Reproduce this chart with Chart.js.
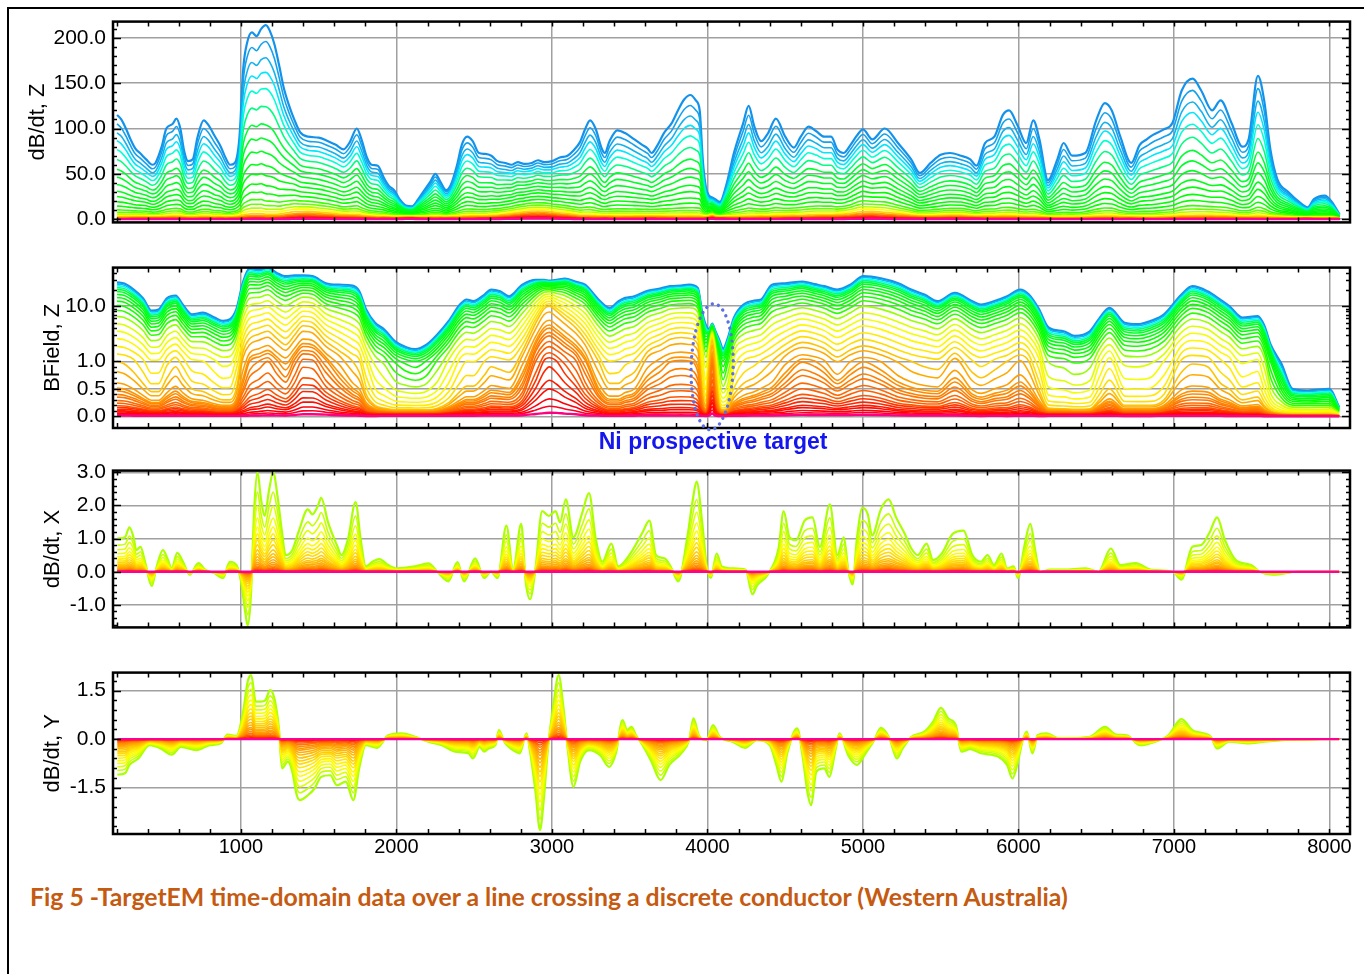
<!DOCTYPE html>
<html>
<head>
<meta charset="utf-8">
<script src="https://cdn.jsdelivr.net/npm/chart.js@4.4.0/dist/chart.umd.min.js"></script>
<style>
  html, body { margin: 0; padding: 0; background: #fff; }
  body { width: 1364px; height: 974px; position: relative; overflow: hidden; }
  #frame { position: absolute; left: 7px; top: 7px; width: 1400px; height: 1000px; border-left: 2px solid #000; border-top: 2px solid #000; }
  canvas { position: absolute; left: 0; }
  #caption { position: absolute; left: 30px; top: 884px; line-height: 26px; font-family: Lato, 'Open Sans', sans-serif; font-weight: 700; color: #c55a11; white-space: nowrap; }
</style>
</head>
<body>
<div id="frame"></div>
<canvas id="c1" width="1364" height="240" style="top:2px"></canvas>
<canvas id="c2" width="1364" height="208" style="top:248px"></canvas>
<canvas id="c3" width="1364" height="196" style="top:451px"></canvas>
<canvas id="c4" width="1364" height="219" style="top:653px"></canvas>
<div id="caption">Fig 5 -TargetEM time-domain data over a line crossing a discrete conductor (Western Australia)</div>
<script>
// ---- data ----
const distTicks = [1000, 2000, 3000, 4000, 5000, 6000, 7000, 8000];

// panel 1: dB/dt Z, first channel and the yellow reference channel
const dist1 = [
  203, 230, 260, 290, 320, 350, 390, 430, 450, 490,
  520, 560, 585, 610, 635, 660, 690, 720, 760, 790,
  830, 870, 900, 930, 960, 990, 1015, 1040, 1070, 1100,
  1130, 1160, 1185, 1215, 1245, 1275, 1310, 1345, 1380, 1430,
  1500, 1560, 1610, 1660, 1700, 1745, 1775, 1810, 1840, 1880,
  1915, 1950, 1985, 2020, 2060, 2100, 2140, 2180, 2220, 2250,
  2280, 2320, 2350, 2390, 2420, 2455, 2490, 2530, 2570, 2610,
  2650, 2700, 2740, 2780, 2820, 2870, 2910, 2950, 3000, 3050,
  3100, 3140, 3180, 3215, 3245, 3280, 3320, 3340, 3370, 3420,
  3470, 3530, 3580, 3615, 3640, 3680, 3720, 3770, 3810, 3850,
  3890, 3925, 3950, 3970, 3990, 4010, 4030, 4050, 4080, 4120,
  4170, 4230, 4265, 4300, 4345, 4390, 4440, 4500, 4555, 4600,
  4650, 4700, 4750, 4795, 4835, 4875, 4920, 4960, 5000, 5060,
  5140, 5225, 5310, 5365, 5435, 5500, 5560, 5630, 5690, 5730,
  5785, 5845, 5900, 5940, 5995, 6050, 6095, 6135, 6190, 6250,
  6290, 6345, 6430, 6500, 6555, 6600, 6655, 6725, 6780, 6825,
  6865, 6935, 6990, 7050, 7120, 7175, 7245, 7300, 7370, 7440,
  7480, 7540, 7580, 7620, 7665, 7735, 7805, 7860, 7900, 7970,
  8015, 8065
];
const p1Early = [
  115, 110, 100, 88, 78, 73, 66, 60, 62, 80,
  100, 105, 111, 100, 75, 64, 66, 90, 109, 104,
  92, 80, 68, 60, 62, 90, 167, 195, 206, 202,
  210, 214, 208, 193, 170, 145, 125, 109, 96, 91,
  90, 86, 82, 77, 85, 100, 88, 68, 60, 59,
  47, 37, 32, 22, 15, 14, 22, 32, 42, 50,
  42, 32, 38, 60, 82, 91, 86, 73, 72, 70,
  64, 62, 60, 63, 61, 62, 65, 63, 64, 68,
  70, 76, 85, 100, 109, 100, 78, 73, 86, 98,
  95, 88, 82, 78, 73, 82, 95, 106, 120, 132,
  137, 131, 120, 65, 35, 26, 24, 22, 19, 37,
  73, 106, 125, 103, 86, 95, 111, 91, 79, 91,
  102, 97, 91, 91, 77, 73, 82, 92, 99, 88,
  100, 84, 66, 51, 62, 71, 73, 70, 66, 59,
  84, 91, 115, 120, 103, 84, 109, 88, 43, 66,
  84, 70, 73, 109, 128, 120, 91, 62, 82, 88,
  93, 99, 106, 142, 155, 142, 120, 131, 106, 80,
  88, 158, 131, 77, 44, 30, 19, 13, 22, 26,
  19, 5
];
const p1Late = [
  4, 4, 4, 4, 4, 4, 4, 3.5, 3.5, 4,
  4.5, 5, 5, 5, 4, 3.5, 3.5, 4, 4.5, 4.5,
  4, 4, 3.5, 3.5, 4, 5, 7, 8, 9, 9,
  9, 8, 8, 8, 8, 9, 10, 11, 11, 11,
  10, 9, 8, 7, 7, 7, 6, 5, 4.5, 4,
  4, 3.5, 3, 3, 3, 3, 3, 3, 3.5, 3.5,
  3.5, 3, 3.5, 4, 4.5, 5, 5, 5, 5, 5.5,
  6, 7, 8, 9, 10, 11, 11, 11, 10, 9,
  8, 7, 6, 6, 6, 5.5, 5, 5, 5, 5,
  5, 5, 5, 5, 5, 5, 5, 5, 5, 5,
  5, 5, 5, 4, 3.5, 4, 5, 3.5, 3, 3.5,
  4, 4.5, 5, 5, 5, 5, 5.5, 5.5, 6, 6,
  6.5, 7, 7, 7, 7, 7.5, 8.5, 10, 11, 11,
  10, 8, 6, 5, 5, 5.5, 6, 6, 5, 4.5,
  5, 5, 5.5, 5.5, 5, 4.5, 4.5, 4, 3, 3,
  3, 3, 3.5, 4.5, 5, 5, 4, 3.5, 3.5, 3.5,
  3.5, 4, 4.5, 5.5, 6, 6, 6, 5.5, 5, 4,
  4, 5, 4.5, 3.5, 3, 2.5, 2, 2, 2, 2,
  2, 1
];
// decay position of each channel between first (0) and reference (1)
const p1Weights = [0, 0.0267, 0.056, 0.0847, 0.1205, 0.166, 0.2195, 0.2704, 0.3272, 0.392,
  0.4548, 0.534, 0.6188, 0.7211, 0.8087, 0.903, 1.0, 1.1195, 1.2428, 1.3662,
  1.5093, 1.6647, 1.8435, 2.0544, 2.2777, 2.544];
const p1Ticks = [0, 50, 100, 150, 200];

// panel 2: BField Z, first channel, mid (yellow/orange) and late (red) channels
const dist2 = [
  203, 250, 310, 370, 425, 470, 525, 580, 625, 685,
  755, 830, 885, 930, 970, 1014, 1057, 1115, 1172, 1230,
  1287, 1345, 1400, 1460, 1546, 1632, 1718, 1761, 1805, 1862,
  1920, 1991, 2063, 2121, 2193, 2264, 2336, 2408, 2451, 2494,
  2566, 2609, 2667, 2724, 2810, 2897, 2950, 2983, 3030, 3083,
  3155, 3213, 3299, 3371, 3428, 3471, 3529, 3615, 3700, 3760,
  3830, 3882, 3938, 3965, 3990, 4010, 4030, 4050, 4075, 4100,
  4130, 4170, 4232, 4300, 4345, 4415, 4500, 4611, 4690, 4751,
  4835, 4919, 5003, 5115, 5227, 5310, 5395, 5479, 5591, 5703,
  5759, 5850, 5927, 6011, 6067, 6130, 6193, 6291, 6361, 6459,
  6520, 6585, 6683, 6767, 6851, 6936, 7048, 7118, 7216, 7300,
  7356, 7440, 7538, 7580, 7622, 7692, 7762, 7860, 8000, 8062
];
const p2Early = [
  27, 25.7, 20, 14, 8.3, 8.7, 14, 15.6, 10.7, 7.1,
  7.6, 6.2, 5.4, 5.8, 8.7, 28, 49, 46, 51, 40,
  35, 36, 36, 35, 26, 24.5, 23.6, 18.6, 8.7, 5.0,
  3.8, 2.3, 1.8, 1.66, 2.0, 3.1, 5.4, 10.7, 13.2, 12.3,
  16.2, 20, 18.6, 15.1, 24.5, 30, 30, 29, 30, 31.6,
  27.5, 24.5, 13.2, 9.3, 12.3, 14.1, 15.1, 19, 21, 23,
  23.6, 24.5, 21.4, 8, 4.5, 3.8, 4.8, 3.6, 2.5, 1.7,
  2.6, 6.2, 10.7, 12.6, 13.2, 24.5, 26, 28, 25, 23,
  20, 24.5, 35, 32, 26, 20, 16.2, 12.3, 17.4, 12.3,
  10.7, 12.5, 15.1, 20, 16.2, 9, 4.1, 3.5, 2.9, 3.5,
  6, 9.3, 5.0, 4.7, 5.4, 7.1, 16.2, 23, 18.6, 13,
  10, 6.2, 6.6, 4.5, 2.0, 0.95, 0.5, 0.47, 0.5, 0.17
];
const p2Mid = [
  1.0, 0.95, 0.8, 0.6, 0.45, 0.45, 0.7, 0.9, 0.7, 0.5,
  0.45, 0.35, 0.3, 0.3, 0.5, 1.5, 2.6, 3.1, 3.5, 2.6,
  2.0, 3.0, 4.4, 4.1, 2.3, 1.55, 1.0, 0.8, 0.4, 0.2,
  0.15, 0.12, 0.12, 0.12, 0.12, 0.15, 0.25, 0.45, 0.55, 0.55,
  0.75, 0.9, 0.85, 0.8, 1.55, 5, 9, 10, 8, 6,
  4, 2.5, 1.0, 0.6, 0.6, 0.7, 0.8, 1.5, 2.0, 2.5,
  2.7, 2.6, 2.0, 0.5, 0.2, 0.9, 2.4, 0.9, 0.2, 0.12,
  0.15, 0.4, 0.6, 0.7, 0.8, 1.0, 1.55, 2.2, 2.0, 1.7,
  1.2, 1.6, 1.9, 1.6, 1.2, 1.0, 0.9, 0.85, 1.4, 0.8,
  0.7, 0.85, 1.0, 1.3, 1.0, 0.5, 0.15, 0.14, 0.13, 0.14,
  0.3, 0.5, 0.2, 0.2, 0.2, 0.3, 0.8, 0.95, 0.9, 0.6,
  0.5, 0.3, 0.35, 0.2, 0.1, 0.05, 0.04, 0.04, 0.04, 0.02
];
const p2Late = [
  0.08, 0.08, 0.07, 0.06, 0.05, 0.05, 0.06, 0.07, 0.06, 0.05,
  0.05, 0.04, 0.04, 0.04, 0.05, 0.08, 0.12, 0.14, 0.17, 0.14,
  0.12, 0.18, 0.26, 0.26, 0.18, 0.12, 0.08, 0.07, 0.04, 0.03,
  0.03, 0.03, 0.03, 0.03, 0.03, 0.03, 0.04, 0.05, 0.06, 0.06,
  0.07, 0.08, 0.08, 0.08, 0.12, 0.3, 0.45, 0.5, 0.45, 0.35,
  0.25, 0.15, 0.08, 0.05, 0.05, 0.06, 0.07, 0.1, 0.11, 0.12,
  0.12, 0.12, 0.1, 0.05, 0.03, 0.08, 0.25, 0.08, 0.03, 0.02,
  0.03, 0.05, 0.06, 0.07, 0.08, 0.09, 0.12, 0.16, 0.15, 0.14,
  0.12, 0.14, 0.16, 0.14, 0.1, 0.09, 0.08, 0.08, 0.1, 0.06,
  0.05, 0.06, 0.06, 0.08, 0.07, 0.04, 0.03, 0.03, 0.03, 0.03,
  0.04, 0.05, 0.03, 0.03, 0.03, 0.04, 0.06, 0.06, 0.06, 0.05,
  0.04, 0.03, 0.03, 0.02, 0.015, 0.01, 0.01, 0.01, 0.01, 0.005
];
// 0..1 first->mid, 1..2 mid->late
const p2Weights = [0, 0.0202, 0.0417, 0.0645, 0.0891, 0.1155, 0.1517, 0.1922, 0.2379, 0.2909,
  0.3534, 0.4301, 0.5243, 0.6169, 0.712, 0.8105, 0.906, 1.0, 1.0823, 1.196,
  1.2634, 1.3065, 1.365, 1.415, 1.4937, 1.5645, 1.6504, 1.7199, 1.804, 1.9098,
  2.0, 2.151, 2.334, 2.676];
const p2Ticks = [0, 0.5, 1, 10];

// panel 3: dB/dt X, first channel
const dist3 = [
  205, 254, 283, 311, 326, 354, 383, 426, 455, 498,
  527, 555, 590, 627, 670, 727, 770, 828, 885, 928,
  971, 1000, 1029, 1043, 1063, 1086, 1106, 1129, 1152, 1181,
  1207, 1235, 1264, 1287, 1330, 1373, 1430, 1459, 1494, 1516,
  1560, 1617, 1646, 1689, 1737, 1769, 1803, 1846, 1890, 1947,
  2004, 2119, 2205, 2263, 2334, 2392, 2435, 2506, 2564, 2607,
  2650, 2707, 2750, 2802, 2831, 2859, 2894, 2937, 2980, 3023,
  3052, 3089, 3138, 3195, 3238, 3281, 3324, 3382, 3425, 3497,
  3583, 3626, 3669, 3726, 3769, 3812, 3869, 3906, 3930, 3966,
  3994, 4022, 4059, 4092, 4162, 4246, 4289, 4317, 4387, 4457,
  4490, 4527, 4569, 4625, 4675, 4723, 4787, 4835, 4877, 4905,
  4933, 4961, 4997, 5031, 5059, 5115, 5165, 5213, 5269, 5311,
  5353, 5409, 5451, 5507, 5577, 5647, 5703, 5759, 5801, 5843,
  5891, 5927, 5969, 5997, 6039, 6076, 6109, 6137, 6207, 6291,
  6431, 6515, 6594, 6655, 6754, 6852, 6992, 7048, 7118, 7174,
  7230, 7277, 7328, 7398, 7496, 7552, 7636, 7800, 8062
];
const p3Early = [
  1.0, 1.04, 1.34, 1.0, 0.65, 0.75, 0.3, -0.43, 0.1, 0.65,
  0.4, 0.1, 0.57, 0.3, -0.09, 0.26, 0.06, -0.04, -0.19, 0.3,
  0.2, -0.29, -1.27, -1.62, -0.78, 1.98, 3.0, 2.18, 1.68, 2.47,
  3.0, 2.28, 1.19, 0.5, 0.65, 1.24, 1.88, 1.73, 1.98, 2.23,
  1.49, 0.8, 0.5, 1.0, 2.1, 1.0, 0.16, 0.3, 0.38, 0.2,
  0.1, 0.16, 0.25, 0.0, -0.29, 0.29, -0.29, 0.4, -0.19, 0.0,
  -0.19, 1.39, 0.06, 1.44, -0.29, -0.83, 0.1, 1.83, 1.68, 1.83,
  1.49, 2.18, 1.04, 1.78, 2.37, 1.0, 0.3, 0.85, 0.16, 0.5,
  1.19, 1.54, 0.5, 0.4, 0.1, -0.29, 1.0, 2.18, 2.72, 1.49,
  0.2, -0.19, 0.55, 0.16, 0.1, 0.06, -0.68, -0.43, -0.09, 0.7,
  1.83, 1.04, 0.95, 1.54, 1.64, 0.75, 2.03, 0.5, 1.04, 0.06,
  -0.38, 1.0, 1.93, 1.73, 1.09, 1.88, 2.18, 1.64, 1.14, 0.7,
  0.5, 0.85, 0.35, 0.55, 1.14, 1.24, 0.5, 0.3, 0.5, 0.2,
  0.55, 0.1, 0.16, -0.19, 0.8, 1.44, 0.6, 0.0, 0.06, 0.06,
  0.1, 0.0, 0.7, 0.2, 0.26, 0.06, 0.0, -0.24, 0.75, 0.8,
  1.19, 1.64, 0.95, 0.35, 0.2, 0.0, -0.09, 0.0, 0.0
];
const p3Gains = [1, 0.8, 0.66, 0.54, 0.45, 0.38, 0.32, 0.27, 0.22, 0.18,
  0.15, 0.12, 0.095, 0.075, 0.058, 0.043, 0.03, 0.018, 0.008, 0];
const p3Ticks = [-1, 0, 1, 2, 3];

// panel 4: dB/dt Y, first channel
const dist4 = [
  205, 254, 283, 340, 412, 483, 555, 613, 713, 799,
  871, 914, 971, 1014, 1043, 1066, 1095, 1129, 1158, 1187,
  1215, 1244, 1264, 1301, 1330, 1359, 1379, 1430, 1473, 1516,
  1574, 1617, 1674, 1723, 1760, 1803, 1875, 1947, 2033, 2119,
  2205, 2291, 2377, 2463, 2492, 2535, 2564, 2593, 2636, 2659,
  2693, 2765, 2793, 2836, 2859, 2894, 2923, 2946, 2974, 3009,
  3043, 3072, 3101, 3138, 3181, 3238, 3310, 3368, 3411, 3454,
  3483, 3511, 3540, 3583, 3640, 3698, 3755, 3830, 3882, 3910,
  3944, 3994, 4036, 4078, 4162, 4241, 4317, 4401, 4443, 4476,
  4513, 4577, 4611, 4644, 4667, 4700, 4751, 4784, 4821, 4849,
  4905, 4961, 5017, 5073, 5115, 5171, 5218, 5255, 5311, 5395,
  5451, 5501, 5549, 5597, 5633, 5689, 5759, 5871, 5927, 5961,
  5997, 6025, 6053, 6090, 6123, 6179, 6263, 6459, 6557, 6627,
  6697, 6782, 6880, 6964, 7048, 7118, 7188, 7238, 7277, 7356,
  7468, 7580, 7692, 8062
];
const p4Early = [
  -1.1, -1.06, -0.8, -0.6, -0.19, -0.29, -0.48, -0.24, -0.34, -0.19,
  -0.13, 0.14, 0.1, 0.85, 1.78, 1.98, 1.16, 1.16, 1.21, 1.52,
  1.26, 0.33, -0.91, -0.7, -1.01, -1.74, -1.89, -1.74, -1.53, -1.17,
  -1.12, -1.43, -1.32, -1.89, -0.91, -0.19, -0.27, 0.12, 0.18, 0.07,
  -0.08, -0.19, -0.39, -0.44, -0.6, -0.24, -0.39, -0.29, -0.19, 0.28,
  -0.08, -0.39, -0.44, 0.18, -0.39, -1.63, -2.82, -1.94, -0.29, 1.05,
  1.98, 1.05, -0.29, -1.48, -0.7, -0.34, -0.5, -0.86, -0.44, 0.59,
  0.28, 0.38, 0.12, -0.19, -0.7, -1.27, -0.8, -0.45, -0.03, 0.64,
  0.12, -0.03, 0.43, 0.07, -0.08, -0.27, -0.03, -0.19, -0.8, -1.32,
  -0.44, 0.33, -0.5, -1.68, -2.05, -1.01, -0.91, -1.17, -0.39, 0.18,
  -0.5, -0.8, -0.44, -0.03, 0.35, 0.02, -0.6, -0.29, 0.07, 0.23,
  0.54, 0.97, 0.64, 0.43, -0.39, -0.31, -0.44, -0.55, -0.8, -1.22,
  -0.7, -0.08, 0.23, -0.44, 0.12, 0.18, 0.02, 0.07, 0.38, 0.14,
  0.12, -0.19, -0.08, 0.12, 0.62, 0.28, 0.18, 0.07, -0.29, -0.08,
  -0.13, -0.08, -0.03, 0.0
];
const p4Gains = [1, 0.88, 0.78, 0.69, 0.61, 0.54, 0.47, 0.41, 0.36, 0.31,
  0.26, 0.22, 0.18, 0.15, 0.12, 0.09, 0.065, 0.04, 0.02, 0];
const p4Ticks = [-1.5, 0, 1.5];

const targetDist = 4030;
const targetLabel = 'Ni prospective target';

// ---- styling ----
Chart.defaults.font.family = "'Liberation Sans', Arial, sans-serif";
Chart.defaults.color = '#000';

const hue1 = [[0, 205], [0.08, 196], [0.12, 186], [0.16, 170], [0.2, 150], [0.24, 132], [0.48, 118],
  [0.56, 95], [0.6, 78], [0.64, 60], [0.72, 38], [0.8, 20], [0.88, 5], [0.96, -15], [1, -35]];
const hue2 = [[0, 205], [0.03, 195], [0.06, 180], [0.09, 150], [0.12, 132], [0.3, 112], [0.333, 85],
  [0.364, 68], [0.424, 58], [0.485, 52], [0.515, 46], [0.545, 40], [0.667, 30], [0.788, 20],
  [0.818, 12], [0.909, 3], [0.97, -8], [1, -30]];
const hueXY = [[0, 80], [0.1, 68], [0.2, 60], [0.35, 52], [0.55, 42], [0.75, 32], [0.88, 18], [0.95, 5], [1, -35]];

function channelColor(stops, f) {
  let h = stops[stops.length - 1][1];
  for (let j = 1; j < stops.length; j++) {
    if (f <= stops[j][0]) {
      const [f0, h0] = stops[j - 1];
      const [f1, h1] = stops[j];
      h = h0 + (h1 - h0) * (f - f0) / (f1 - f0);
      break;
    }
  }
  h = (h + 360) % 360;
  const sat = (h > 190 && h < 250) ? 85 : 100;
  return `hsl(${h.toFixed(1)}, ${sat}%, 50%)`;
}

function channelSet(dist, values, k, n, stops) {
  const last = k === n - 1;
  return {
    data: dist.map((d, i) => ({ x: d, y: values[i] })),
    borderColor: channelColor(stops, k / (n - 1)),
    borderWidth: k === 0 ? 2.2 : (last ? 2.4 : 1.6),
    pointRadius: 0,
    fill: false,
    cubicInterpolationMode: 'monotone',
    order: n - k
  };
}

// symmetric log axis: linear in [-1, 1], log10 beyond
class SymlogScale extends Chart.LinearScale {
  static id = 'symlog';
  static defaults = Chart.LinearScale.defaults;
  fwd(v) { return Math.abs(v) <= 1 ? v : Math.sign(v) * (1 + Math.log10(Math.abs(v))); }
  inv(f) { return Math.abs(f) <= 1 ? f : Math.sign(f) * Math.pow(10, Math.abs(f) - 1); }
  getPixelForValue(v) {
    const a = this.fwd(this.min), b = this.fwd(this.max);
    return this.getPixelForDecimal((this.fwd(v) - a) / (b - a));
  }
  getValueForPixel(p) {
    const a = this.fwd(this.min), b = this.fwd(this.max);
    return this.inv(a + this.getDecimalForPixel(p) * (b - a));
  }
}
Chart.register(SymlogScale);

// inward tick marks and black frame around each plot
const framePlugin = {
  id: 'frame',
  afterDraw(chart, args, opts) {
    const { ctx, chartArea: a, scales: { x, y } } = chart;
    ctx.save();
    ctx.strokeStyle = '#000';
    ctx.lineWidth = 1.5;
    ctx.beginPath();
    for (let v = 200; v <= 8100; v += 200) {
      const px = Math.round(x.getPixelForValue(v)) + 0.5;
      if (px <= a.left + 1 || px >= a.right - 1) continue;
      ctx.moveTo(px, a.top); ctx.lineTo(px, a.top + 5);
      ctx.moveTo(px, a.bottom); ctx.lineTo(px, a.bottom - 5);
    }
    opts.yMinor.forEach(v => {
      const py = Math.round(y.getPixelForValue(v)) + 0.5;
      if (py <= a.top + 1 || py >= a.bottom - 1) return;
      const len = opts.yMajor.some(m => Math.abs(m - v) < 1e-6) ? 8 : 4;
      ctx.moveTo(a.left, py); ctx.lineTo(a.left + len, py);
      ctx.moveTo(a.right, py); ctx.lineTo(a.right - len, py);
    });
    ctx.stroke();
    ctx.lineWidth = 2.5;
    ctx.strokeRect(a.left, a.top, a.right - a.left, a.bottom - a.top);
    ctx.restore();
  }
};

const targetPlugin = {
  id: 'target',
  afterDraw(chart) {
    const { ctx, chartArea: a, scales: { x, y } } = chart;
    const cx = x.getPixelForValue(targetDist);
    const cy = y.getPixelForValue(0.9);
    ctx.save();
    ctx.strokeStyle = '#5b6fe6';
    ctx.lineWidth = 3.4;
    ctx.lineCap = 'round';
    ctx.setLineDash([0.01, 6.5]);
    ctx.beginPath();
    ctx.ellipse(cx, cy, 21, 63, 0.03, 0, Math.PI * 2);
    ctx.stroke();
    ctx.setLineDash([]);
    ctx.fillStyle = '#1515ee';
    ctx.font = "bold 23px 'Liberation Sans', Arial, sans-serif";
    ctx.textAlign = 'center';
    ctx.textBaseline = 'middle';
    ctx.fillText(targetLabel, cx + 1, a.bottom + 15);
    ctx.restore();
  }
};

function steps(from, to, step) {
  const out = [];
  for (let v = from; v <= to + 1e-9; v += step) out.push(Math.round(v * 1000) / 1000);
  return out;
}

function makePanel(id, cfg) {
  return new Chart(document.getElementById(id), {
    type: 'line',
    data: { datasets: cfg.datasets },
    options: {
      responsive: false,
      animation: false,
      events: [],
      layout: { padding: cfg.padding },
      plugins: {
        legend: { display: false },
        tooltip: { enabled: false },
        frame: { yMinor: cfg.yMinor, yMajor: cfg.ticks }
      },
      scales: {
        x: {
          type: 'linear', min: 177, max: 8132, bounds: 'data',
          afterBuildTicks: s => { s.ticks = distTicks.map(v => ({ value: v })); },
          afterFit: s => { s.height = cfg.showX ? 30 : 0; },
          grid: { color: '#a0a0a0', lineWidth: 1.5, drawTicks: false },
          border: { display: false },
          ticks: { display: cfg.showX, autoSkip: false, maxRotation: 0, padding: 1, font: { size: 20 }, color: '#000',
                   callback: v => String(v) }
        },
        y: {
          type: cfg.yType, min: cfg.min, max: cfg.max, bounds: 'data',
          afterBuildTicks: s => { s.ticks = cfg.ticks.map(v => ({ value: v })); },
          afterFit: s => { s.width = 113; },
          grid: { color: '#a0a0a0', lineWidth: 1.5, drawTicks: false },
          border: { display: false },
          ticks: { autoSkip: false, padding: 7, font: { size: 21 }, color: '#000', callback: v => Number(v).toFixed(1) },
          title: { display: true, text: cfg.title, color: '#000', font: { size: 22 }, padding: { top: cfg.titlePad, bottom: 0 } }
        }
      }
    },
    plugins: [framePlugin].concat(cfg.extra || [])
  });
}

// ---- build channels ----
const sets1 = p1Weights.map((w, k) =>
  channelSet(dist1, p1Early.map((e, i) => e * Math.pow(p1Late[i] / e, w)), k, p1Weights.length, hue1));

const sets2 = p2Weights.map((w, k) =>
  channelSet(dist2, p2Early.map((e, i) => w <= 1
    ? e * Math.pow(p2Mid[i] / e, w)
    : p2Mid[i] * Math.pow(p2Late[i] / p2Mid[i], w - 1)), k, p2Weights.length, hue2));

const sets3 = p3Gains.map((g, k) =>
  channelSet(dist3, p3Early.map(e => e * g), k, p3Gains.length, hueXY));

const sets4 = p4Gains.map((g, k) =>
  channelSet(dist4, p4Early.map(e => e * g), k, p4Gains.length, hueXY));

makePanel('c1', {
  datasets: sets1, yType: 'linear', min: -3.6, max: 218, ticks: p1Ticks,
  yMinor: steps(0, 210, 10), title: 'dB/dt, Z', titlePad: 25,
  padding: { top: 18, bottom: 18, left: 0, right: 14 }, showX: false
});
makePanel('c2', {
  datasets: sets2, yType: 'symlog', min: -0.21, max: 50, ticks: p2Ticks,
  yMinor: steps(0, 1, 0.1).concat([2, 3, 4, 5, 6, 7, 8, 9, 10, 20, 30, 40]), title: 'BField, Z', titlePad: 40,
  padding: { top: 18, bottom: 28, left: 0, right: 14 }, showX: false, extra: [targetPlugin]
});
makePanel('c3', {
  datasets: sets3, yType: 'linear', min: -1.68, max: 3.05, ticks: p3Ticks,
  yMinor: steps(-1.6, 3.0, 0.2), title: 'dB/dt, X', titlePad: 40,
  padding: { top: 18, bottom: 18, left: 0, right: 14 }, showX: false
});
makePanel('c4', {
  datasets: sets4, yType: 'linear', min: -2.94, max: 2.06, ticks: p4Ticks,
  yMinor: steps(-2.7, 1.8, 0.3), title: 'dB/dt, Y', titlePad: 40,
  padding: { top: 18, bottom: 8, left: 0, right: 14 }, showX: true
});

// fit caption to the width it takes in the figure
const cap = document.getElementById('caption');
const mctx = document.createElement('canvas').getContext('2d');
mctx.font = "700 20px Lato, 'Open Sans', sans-serif";
const capW = mctx.measureText(cap.textContent).width;
cap.style.fontSize = (20 * 1040 / capW).toFixed(2) + 'px';
</script>
</body>
</html>
